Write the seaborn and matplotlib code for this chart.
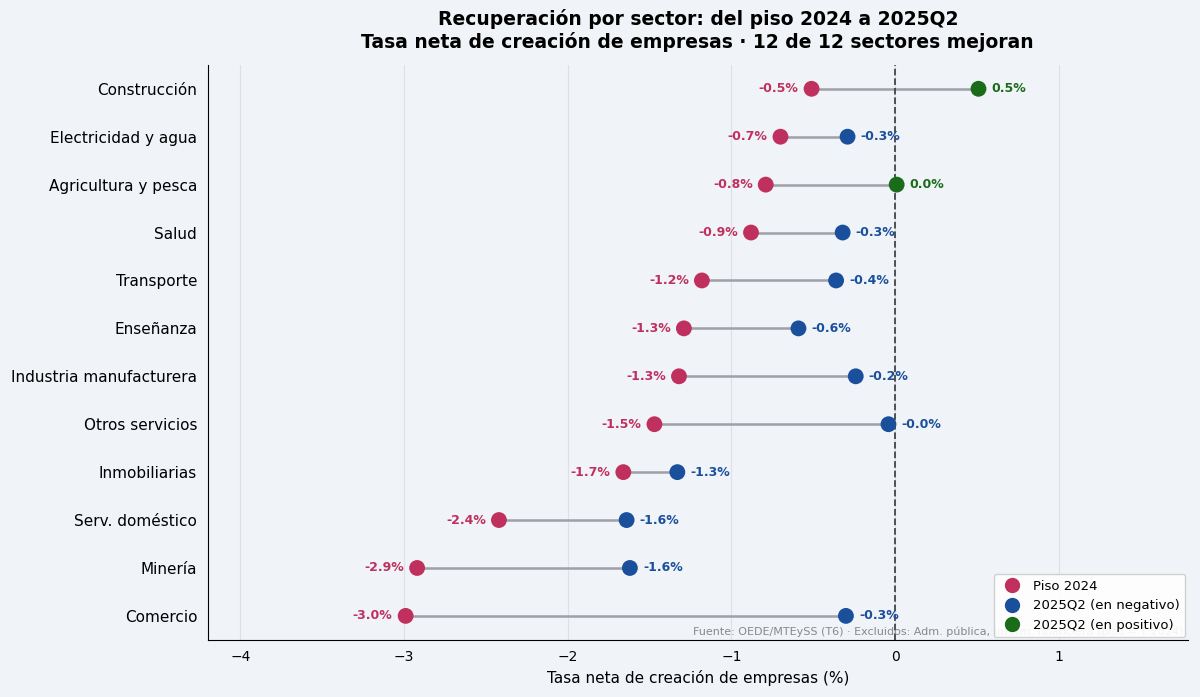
import numpy as np
import pandas as pd
import seaborn as sns
import matplotlib.pyplot as plt
from matplotlib.lines import Line2D

sectors = ['Construcción', 'Electricidad y agua', 'Agricultura y pesca', 'Salud', 'Transporte',
           'Enseñanza', 'Industria manufacturera', 'Otros servicios', 'Inmobiliarias',
           'Serv. doméstico', 'Minería', 'Comercio']
piso_2024 = [-0.51, -0.70, -0.79, -0.88, -1.18, -1.29, -1.32, -1.47, -1.66, -2.42, -2.92, -2.99]
q2_2025 = [0.51, -0.29, 0.01, -0.32, -0.36, -0.59, -0.24, -0.04, -1.33, -1.64, -1.62, -0.30]

PINK = '#c0305e'
BLUE = '#1a4f9c'
GREEN = '#1a6b1a'
BG = '#f0f4f8'


def main() -> None:
    sns.set_style('white')
    plt.rcParams['font.family'] = ['DejaVu Sans']
    plt.rcParams.update({'text.color': 'black', 'axes.labelcolor': 'black',
                         'xtick.color': 'black', 'ytick.color': 'black',
                         'axes.edgecolor': 'black'})

    df = pd.DataFrame({'sector': sectors, 'piso': piso_2024, 'q2': q2_2025})
    df['pos'] = np.where(df['q2'] > 0, 'pos', 'neg')

    fig, ax = plt.subplots(figsize=(12, 6.97), dpi=100)
    fig.patch.set_facecolor(BG)
    ax.set_facecolor(BG)
    fig.subplots_adjust(left=0.173, right=0.99, top=0.907, bottom=0.082)

    y = np.arange(len(df))
    ax.hlines(y, df['piso'], df['q2'], color='#a0a0a8', lw=1.8, zorder=1)
    sns.scatterplot(x=df['piso'], y=y, color=PINK, s=130, edgecolor='none', ax=ax, zorder=3)
    sns.scatterplot(x=df['q2'], y=y, hue=df['pos'], palette={'pos': GREEN, 'neg': BLUE},
                    s=130, edgecolor='none', ax=ax, zorder=3, legend=False)

    for i, r in df.iterrows():
        ax.text(r['piso'] - 0.08, i, f"{r['piso']:.1f}%", ha='right', va='center',
                color=PINK, fontsize=9, fontweight='bold')
        c = GREEN if r['q2'] > 0 else BLUE
        ax.text(r['q2'] + 0.08, i, f"{r['q2']:.1f}%", ha='left', va='center',
                color=c, fontsize=9, fontweight='bold')

    ax.axvline(0, color='#444444', ls='--', lw=1.3, zorder=2)
    ax.set_xlim(-4.2, 1.79)
    ax.set_ylim(len(df) - 0.5, -0.5)
    ax.set_yticks(y)
    ax.set_yticklabels(df['sector'], fontsize=11)
    ax.set_xticks([-4, -3, -2, -1, 0, 1])
    ax.set_xticklabels(['−4', '−3', '−2', '−1', '0', '1'], fontsize=10)
    ax.tick_params(axis='both', length=4)
    ax.grid(axis='x', color='#dde1e6', lw=0.8)
    ax.set_axisbelow(True)
    sns.despine(ax=ax)
    ax.set_xlabel('Tasa neta de creación de empresas (%)', fontsize=11)
    ax.set_ylabel('')
    ax.set_title('Recuperación por sector: del piso 2024 a 2025Q2\n'
                 'Tasa neta de creación de empresas · 12 de 12 sectores mejoran',
                 fontsize=13.5, fontweight='bold', pad=12)

    ax.text(0.995, 0.005, 'Fuente: OEDE/MTEySS (T6) · Excluidos: Adm. pública, Interm. financiera (piso = T 2024)',
            transform=ax.transAxes, ha='right', va='bottom', fontsize=8, color='#888888')

    handles = [Line2D([], [], marker='o', ls='', color=PINK, markersize=10, label='Piso 2024'),
               Line2D([], [], marker='o', ls='', color=BLUE, markersize=10, label='2025Q2 (en negativo)'),
               Line2D([], [], marker='o', ls='', color=GREEN, markersize=10, label='2025Q2 (en positivo)')]
    ax.legend(handles=handles, loc='lower right', fontsize=9.5, frameon=True, framealpha=0.9,
              borderaxespad=0.2, handletextpad=0.6)

    plt.savefig('out.png', facecolor=BG)


if __name__ == '__main__':
    main()
